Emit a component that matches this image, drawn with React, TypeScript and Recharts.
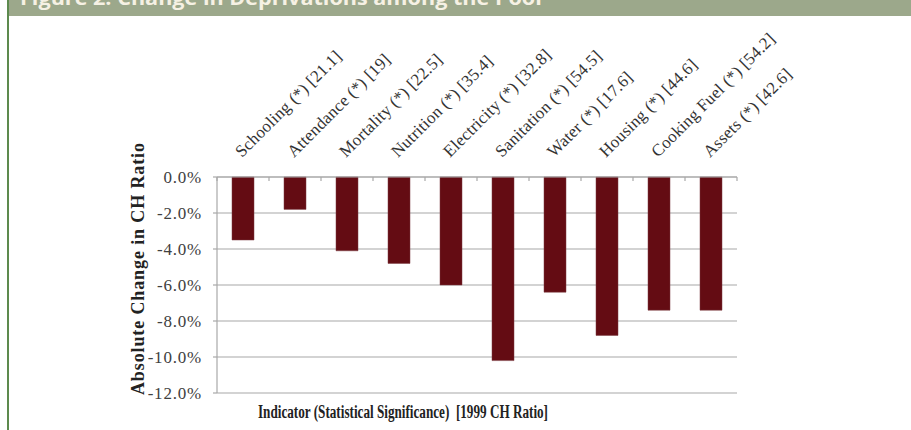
import { BarChart, Bar, XAxis, YAxis, CartesianGrid, Label } from 'recharts'

// indicators, 1999 CH ratio and absolute change (percentage points)
const indicators = [
  'Schooling', 'Attendance', 'Mortality', 'Nutrition', 'Electricity',
  'Sanitation', 'Water', 'Housing', 'Cooking Fuel', 'Assets',
]
const ratio1999 = ['21.1', '19', '22.5', '35.4', '32.8', '54.5', '17.6', '44.6', '54.2', '42.6']
const change = [-3.5, -1.8, -4.1, -4.8, -6.0, -10.2, -6.4, -8.8, -7.4, -7.4]
const yTicks = [0, -2, -4, -6, -8, -10, -12]

const data = indicators.map((name, i) => ({
  label: `${name} (*) [${ratio1999[i]}]`,
  value: change[i],
}))

const W = 911
const H = 430
const LEFT = 217
const RIGHT = 174
const TOP = 177
const BOTTOM = 37
const BAND = (W - LEFT - RIGHT) / indicators.length

const GRID = '#a8a8a8'
const BAR = '#640c13'
const SERIF = '"Liberation Serif", "Times New Roman", serif'

const CategoryTick = (props: any) => {
  const { x, y, payload, index } = props
  const half = BAND / 2
  const tx = x - 1
  const ty = y - 19
  return (
    <g>
      <line x1={x - half} y1={y} x2={x - half} y2={y + 4} stroke={GRID} strokeWidth={1.2} />
      {index === indicators.length - 1 && (
        <line x1={x + half} y1={y} x2={x + half} y2={y + 4} stroke={GRID} strokeWidth={1.2} />
      )}
      <text
        x={tx}
        y={ty}
        transform={`rotate(-45 ${tx} ${ty})`}
        textAnchor="start"
        fontFamily={SERIF}
        fontSize={17}
        letterSpacing={0.2}
        fill="#333"
      >
        {payload.value}
      </text>
    </g>
  )
}

export default function App() {
  return (
    <div style={{ position: 'absolute', left: 0, top: 0, width: W, height: H, background: '#fff' }}>
      <BarChart
        width={W}
        height={H}
        data={data}
        margin={{ top: 0, right: RIGHT, bottom: 0, left: 0 }}
      >
        <CartesianGrid vertical={false} stroke={GRID} strokeWidth={1.2} />
        <XAxis
          xAxisId="top"
          orientation="top"
          dataKey="label"
          height={TOP}
          interval={0}
          tickSize={0}
          tickMargin={0}
          tickLine={false}
          axisLine={{ stroke: GRID, strokeWidth: 1.2 }}
          tick={<CategoryTick />}
        />
        <XAxis
          xAxisId="bottom"
          orientation="bottom"
          dataKey="label"
          height={BOTTOM}
          tick={false}
          tickLine={false}
          axisLine={false}
        >
          <Label
            content={(p: any) => {
              const vb = p.viewBox
              const cx = vb.x + vb.width / 2 - 74
              return (
                <text
                  x={cx}
                  y={vb.y + 25}
                  textAnchor="middle"
                  fontFamily={SERIF}
                  fontWeight="bold"
                  fontSize={18.5}
                  textLength={290}
                  lengthAdjust="spacingAndGlyphs"
                  fill="#222"
                  style={{ whiteSpace: 'pre' }}
                >
                  Indicator (Statistical Significance)  [1999 CH Ratio]
                </text>
              )
            }}
          />
        </XAxis>
        <YAxis
          width={LEFT}
          domain={[-12, 0]}
          ticks={yTicks}
          interval={0}
          tickSize={4}
          tickMargin={11}
          tickLine={{ stroke: GRID, strokeWidth: 1.2 }}
          axisLine={{ stroke: GRID, strokeWidth: 1.2 }}
          tickFormatter={(v: number) => `${v.toFixed(1)}%`}
          tick={{ fontFamily: SERIF, fontSize: 17, fill: '#404040', letterSpacing: 0.8 }}
        >
          <Label
            content={(p: any) => {
              const vb = p.viewBox
              const cx = vb.x + 138
              const cy = vb.y + vb.height / 2 - 16
              return (
                <text
                  x={cx}
                  y={cy}
                  transform={`rotate(-90 ${cx} ${cy})`}
                  textAnchor="middle"
                  dominantBaseline="central"
                  fontFamily={SERIF}
                  fontWeight="bold"
                  fontSize={18}
                  textLength={252}
                  lengthAdjust="spacing"
                  fill="#222"
                >
                  Absolute Change in CH Ratio
                </text>
              )
            }}
          />
        </YAxis>
        <Bar
          xAxisId="top"
          dataKey="value"
          fill={BAR}
          stroke="#7a3a40"
          strokeWidth={0.5}
          barSize={22}
          isAnimationActive={false}
        />
      </BarChart>
      <svg
        width={W}
        height={H}
        style={{ position: 'absolute', left: 0, top: 0, pointerEvents: 'none' }}
      >
        <rect x={9} y={0} width={W - 9} height={16} fill="#9ca88b" />
        <text
          x={20}
          y={4.5}
          fontFamily='"Open Sans", "Noto Sans", sans-serif'
          fontWeight="bold"
          fontSize={19}
          textLength={525}
          lengthAdjust="spacingAndGlyphs"
          fill="#f6f1e4"
        >
          Figure 2: Change in Deprivations among the Poor
        </text>
        <rect x={7} y={0} width={2} height={H} fill="#5d8a4e" />
      </svg>
    </div>
  )
}
